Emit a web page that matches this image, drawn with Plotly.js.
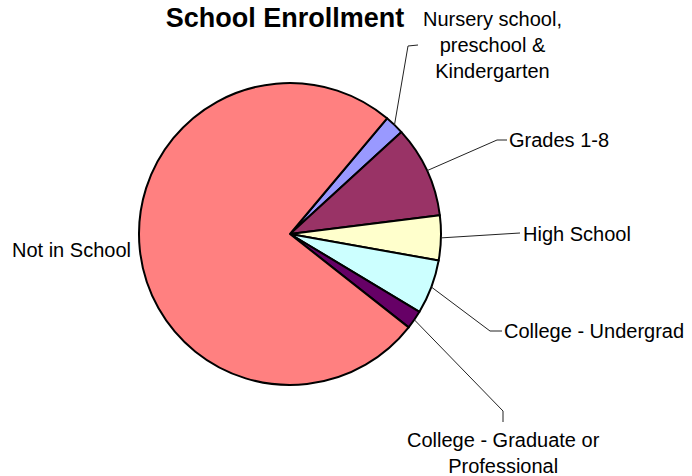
<!DOCTYPE html>
<html>
<head>
<meta charset="utf-8">
<script src="https://cdn.plot.ly/plotly-3.0.1.min.js"></script>
<style>html,body{margin:0;padding:0;background:#fff;}#chart{width:692px;height:476px;}</style>
</head>
<body>
<div id="chart"></div>
<script>
var categories = ["Nursery school, preschool & Kindergarten", "Grades 1-8", "High School", "College - Undergrad", "College - Graduate or Professional", "Not in School"];
var labelTexts = ["Nursery school,<br>preschool &<br>Kindergarten", "Grades 1-8", "High School", "College - Undergrad", "College - Graduate or<br>Professional", "Not in School"];
var values = [2.1, 9.8, 4.8, 5.8, 2.0, 75.5];
var colors = ["#9999FF", "#993366", "#FFFFCC", "#CCFFFF", "#660066", "#FF8080"];

var W = 692, H = 476;
var cx = 290, cy = 234, R = 151;
var rotation = 40;

function px(x){ return x / W; }
function py(y){ return (H - y) / H; }

var total = values.reduce(function(a,b){return a+b;},0);
var cum = 0;
var edges = values.map(function(v){
  var a = (rotation + 360 * (cum + v/2) / total) * Math.PI / 180;
  cum += v;
  return [cx + R * Math.sin(a), cy - R * Math.cos(a)];
});

// leader routes (elbow, end) in pixels, and label placement
var leaders = [
  [[408,46],[418,45]],
  [[497,140],[507,140]],
  [[520,233]],
  [[490,331],[502,331]],
  [[503,411],[503,422]],
  null
];
var labelPos = [
  {x:492, y:45, xa:"center"},
  {x:507, y:140, xa:"left"},
  {x:521, y:234, xa:"left"},
  {x:502, y:331, xa:"left"},
  {x:503, y:453, xa:"center"},
  {x:133, y:250, xa:"right"}
];

var shapes = [];
leaders.forEach(function(pts, i){
  if(!pts) return;
  var d = "M" + px(edges[i][0]) + "," + py(edges[i][1]);
  pts.forEach(function(p){ d += " L" + px(p[0]) + "," + py(p[1]); });
  shapes.push({type:"path", xref:"paper", yref:"paper", path:d, line:{color:"#222", width:1}});
});

var annotations = labelPos.map(function(p, i){
  return {xref:"paper", yref:"paper", x:px(p.x), y:py(p.y), xanchor:p.xa, yanchor:"middle",
    text:labelTexts[i], showarrow:false, align:"center",
    font:{family:"Liberation Sans, Arial, sans-serif", size:20, color:"#000"}};
});

var trace = {
  type:"pie",
  labels:categories,
  values:values,
  sort:false,
  direction:"clockwise",
  rotation:rotation,
  textinfo:"none",
  hoverinfo:"label+percent",
  marker:{colors:colors, line:{color:"#000", width:2}},
  domain:{x:[px(cx-R), px(cx+R)], y:[py(cy+R), py(cy-R)]},
  showlegend:false
};

var layout = {
  width:W, height:H,
  margin:{l:0,r:0,t:0,b:0},
  paper_bgcolor:"#fff",
  plot_bgcolor:"#fff",
  title:{text:"<b>School Enrollment</b>", x:285/W, xanchor:"center", y:py(18), yanchor:"middle",
    font:{family:"Liberation Sans, Arial, sans-serif", size:27, color:"#000"}},
  shapes:shapes,
  annotations:annotations,
  showlegend:false
};

Plotly.newPlot("chart", [trace], layout, {displayModeBar:false, staticPlot:true});
</script>
</body>
</html>
